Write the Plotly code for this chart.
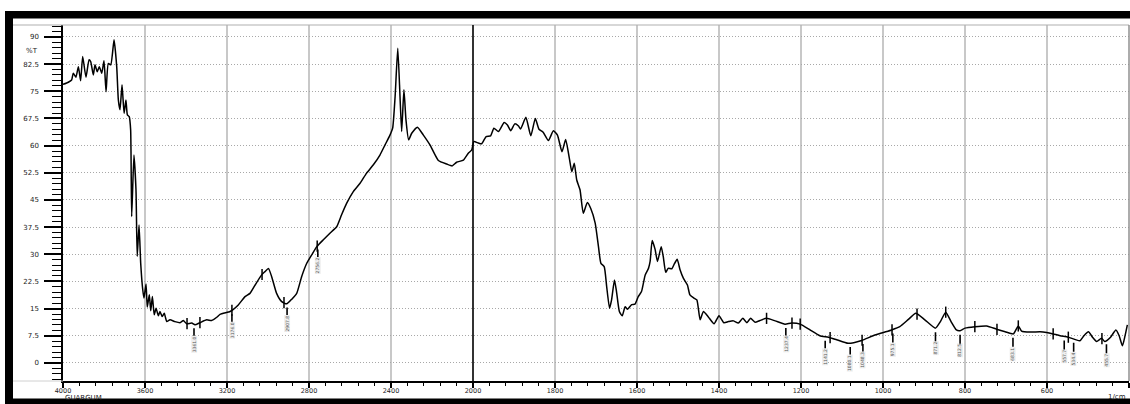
import numpy as np
import plotly.graph_objects as go

# ---------------- data ----------------
wavenumber = [
    4000, 3974, 3958, 3950, 3937, 3925, 3914, 3904, 3888, 3873, 3865, 3852, 3844, 3833, 3823, 3811,
    3800, 3790, 3779, 3767, 3751, 3738, 3730, 3722, 3712, 3702, 3693, 3686, 3677, 3670, 3665, 3654,
    3644, 3638, 3629, 3621, 3611, 3605, 3595, 3589, 3579, 3572, 3564, 3555, 3546, 3535, 3527, 3516,
    3506, 3494, 3478, 3454, 3429, 3413, 3397, 3372, 3356, 3332, 3299, 3275, 3250, 3234, 3185, 3169,
    3145, 3112, 3088, 3063, 3031, 3015, 2998, 2982, 2958, 2933, 2909, 2884, 2860, 2836, 2811, 2787,
    2762, 2730, 2698, 2665, 2641, 2616, 2584, 2551, 2519, 2486, 2454, 2429, 2405, 2392, 2380, 2367,
    2356, 2348, 2337, 2327, 2314, 2299, 2271, 2242, 2210, 2169, 2128, 2101, 2080, 2047, 2023, 2006,
    1998, 1987, 1979, 1968, 1957, 1949, 1938, 1924, 1916, 1908, 1898, 1889, 1884, 1871, 1859, 1848,
    1839, 1829, 1816, 1804, 1794, 1783, 1774, 1765, 1759, 1753, 1747, 1739, 1731, 1721, 1713, 1702,
    1694, 1688, 1680, 1674, 1667, 1662, 1655, 1650, 1643, 1636, 1629, 1623, 1613, 1605, 1597, 1589,
    1580, 1572, 1568, 1563, 1556, 1550, 1541, 1536, 1530, 1524, 1515, 1510, 1502, 1495, 1487, 1477,
    1471, 1461, 1454, 1446, 1438, 1426, 1412, 1400, 1388, 1377, 1365, 1353, 1342, 1332, 1323, 1312,
    1300, 1284, 1263, 1239, 1223, 1202, 1178, 1154, 1133, 1113, 1085, 1052, 1024, 999, 979, 959,
    938, 920, 898, 872, 860, 847, 834, 821, 812, 800, 776, 747, 723, 702, 682, 670,
    662, 641, 617, 601, 585, 568, 548, 520, 510, 499, 489, 479, 467, 459, 445, 432,
    424, 416, 410, 404,
]
transmittance = [
    76.9, 77.5, 78.1, 80.0, 78.9, 81.8, 77.9, 84.6, 78.9, 83.7, 83.2, 79.5, 82.3, 80.4, 81.8, 80.0,
    83.4, 74.9, 82.7, 82.3, 89.2, 81.8, 72.6, 69.9, 76.8, 68.9, 72.6, 68.5, 68.0, 64.3, 40.4, 57.4,
    47.8, 29.4, 38.1, 27.5, 20.2, 17.9, 21.8, 15.4, 18.8, 14.4, 18.3, 13.3, 15.1, 13.0, 14.2, 12.8,
    13.7, 11.4, 11.9, 11.4, 11.1, 11.7, 10.8, 11.0, 10.5, 11.1, 11.9, 11.7, 12.6, 13.4, 14.2, 14.8,
    16.0, 18.3, 19.2, 21.5, 24.3, 25.2, 26.1, 23.8, 19.2, 16.9, 16.3, 17.6, 19.2, 23.8, 27.5, 29.8,
    32.1, 34.0, 35.8, 37.6, 40.9, 44.1, 47.3, 49.6, 52.4, 54.7, 57.4, 60.2, 62.9, 64.8, 73.5, 86.9,
    73.5, 63.9, 75.4, 67.1, 61.6, 63.4, 65.1, 62.9, 60.2, 55.9, 54.9, 54.4, 55.4, 56.0, 57.9, 58.8,
    61.1, 60.7, 60.5, 62.5, 62.7, 64.8, 63.9, 66.4, 65.7, 64.1, 66.0, 65.4, 64.6, 67.8, 62.7, 67.5,
    64.5, 63.7, 61.4, 64.1, 62.9, 58.3, 61.7, 56.5, 52.8, 55.1, 50.5, 47.8, 41.3, 44.3, 42.7, 38.6,
    32.1, 27.5, 26.6, 21.1, 15.1, 17.4, 22.9, 19.7, 14.2, 13.0, 15.5, 14.8, 16.1, 16.2, 18.3, 19.7,
    24.3, 26.1, 28.0, 33.8, 31.4, 28.0, 32.1, 29.4, 25.0, 26.1, 26.0, 27.1, 28.6, 25.7, 23.4, 21.5,
    18.8, 17.9, 17.4, 11.9, 14.2, 12.7, 10.8, 13.0, 11.1, 11.4, 11.6, 11.0, 12.3, 11.1, 12.3, 11.2,
    11.7, 12.3, 11.6, 10.7, 11.0, 10.7, 9.1, 7.5, 7.1, 6.4, 5.4, 6.2, 7.5, 8.4, 9.1, 10.0,
    12.0, 13.7, 11.9, 9.6, 11.4, 14.0, 11.4, 9.1, 8.9, 9.6, 10.0, 10.2, 9.3, 8.6, 8.0, 10.2,
    8.8, 8.5, 8.6, 8.4, 8.0, 7.5, 7.1, 6.1, 7.5, 8.6, 7.1, 5.9, 6.8, 5.9, 7.1, 9.1,
    7.5, 4.7, 7.3, 10.5,
]

# labelled peaks (wavenumber, label text)
peak_w = [3361, 3176, 2907, 2757, 1237, 1141, 1080, 1049, 976, 872, 812, 683, 558, 535, 455]
peak_labels = ["3361.0", "3176.0", "2907.8", "2756.2", "1237.4", "1141.2", "1080.1",
               "1048.3", "975.1", "871.2", "812.5", "683.1", "557.7", "534.4", "455.7"]

# small peak-pick markers on the curve
mark_w = [3395, 3332, 3176, 3029, 2922, 2760, 1284, 1222, 1202, 1129, 1051, 978, 917,
          847, 776, 722, 670, 585, 548, 466]

major_ticks_w = [4000, 3600, 3200, 2800, 2400, 2000, 1800, 1600, 1400, 1200, 1000, 800, 600, 400]
y_ticks = [0, 7.5, 15, 22.5, 30, 37.5, 45, 52.5, 60, 67.5, 75, 82.5, 90]


# ---------------- helpers ----------------
def to_u(w):
    """IR-style split scale: 4000-2000 compressed, 2000-400 expanded 2x."""
    w = np.asarray(w, dtype=float)
    return np.where(w >= 2000, (4000 - w) / 400.0, 5 + (2000 - w) / 200.0)


w_arr = np.array(wavenumber, dtype=float)
t_arr = np.array(transmittance, dtype=float)
order = np.argsort(w_arr)


def t_at(w):
    return np.interp(w, w_arr[order], t_arr[order])


L, T, W, H = 63, 25, 1130, 404
PW = 1129 - L
PH = 381 - T


def px(x):
    return (x - L) / PW


def py(y):
    return (381 - y) / PH


fig = go.Figure()

fig.add_trace(go.Scatter(
    x=to_u(wavenumber), y=transmittance, mode="lines",
    line=dict(color="black", width=1.5, shape="spline", smoothing=0.5),
    hoverinfo="skip", showlegend=False,
))

fig.add_trace(go.Scatter(
    x=to_u(mark_w), y=t_at(mark_w), mode="markers",
    marker=dict(symbol="line-ns", size=8, line=dict(color="black", width=1.5)),
    hoverinfo="skip", showlegend=False,
))

annotations = []
for w, lab in zip(peak_w, peak_labels):
    annotations.append(dict(
        x=float(to_u(w)), y=float(t_at(w)), xref="x", yref="y",
        text=lab, textangle=-90, showarrow=True, arrowhead=0, arrowwidth=1.6,
        arrowcolor="black", ax=0, ay=20, standoff=4,
        font=dict(size=4.5, color="#555", family="DejaVu Sans"),
        bgcolor="#eeeeee", borderpad=0,
    ))

annotations += [
    dict(x=px(40), y=86.2, xref="paper", yref="y", text="%T", showarrow=False,
         xanchor="right", yanchor="middle", font=dict(size=7, color="#222", family="DejaVu Sans")),
    dict(x=0, y=py(392.0), xref="paper", yref="paper", text="GUARGUM", showarrow=False,
         xanchor="left", yanchor="top", font=dict(size=7, color="#222", family="DejaVu Sans")),
    dict(x=px(1128), y=py(391.0), xref="paper", yref="paper", text="1/cm", showarrow=False,
         xanchor="right", yanchor="top", font=dict(size=7, color="#222", family="DejaVu Sans")),
]

shapes = [
    # plot border (top / right)
    dict(type="line", xref="paper", yref="paper", x0=px(13), x1=1, y0=1, y1=1,
         line=dict(color="#b0b0b0", width=1.2)),
    dict(type="line", xref="paper", yref="paper", x0=1, x1=1, y0=0, y1=1,
         line=dict(color="#909090", width=1.5)),
    dict(type="line", xref="paper", yref="paper", x0=px(13), x1=0, y0=0, y1=0,
         line=dict(color="#d0d0d0", width=1)),
    # 2000 cm-1 scale change line
    dict(type="line", xref="x", yref="paper", x0=float(to_u(2000)), x1=float(to_u(2000)),
         y0=0, y1=1, line=dict(color="black", width=1.5)),
    # outer black frame
    dict(type="rect", xref="paper", yref="paper", x0=px(5), x1=px(13), y0=py(415), y1=py(11),
         fillcolor="black", line=dict(width=0)),
    dict(type="rect", xref="paper", yref="paper", x0=px(5), x1=px(1140), y0=py(18.5), y1=py(11),
         fillcolor="black", line=dict(width=0)),
    dict(type="rect", xref="paper", yref="paper", x0=px(5), x1=px(1140), y0=py(415), y1=py(398.5),
         fillcolor="black", line=dict(width=0)),
]

fig.update_layout(
    width=W, height=H,
    margin=dict(l=L, r=W - 1129, t=T, b=H - 381),
    paper_bgcolor="white", plot_bgcolor="white",
    showlegend=False, hovermode=False,
    annotations=annotations, shapes=shapes,
    font=dict(family="DejaVu Sans", color="#222"),
)

fig.update_xaxes(
    range=[0, 13], tickmode="array",
    tickvals=[float(v) for v in to_u(major_ticks_w)],
    ticktext=[str(v) for v in major_ticks_w],
    showgrid=True, gridcolor="#c8c8c8", gridwidth=1.5,
    showline=True, linecolor="black", linewidth=1.5,
    ticks="outside", ticklen=5, tickwidth=1.5, tickcolor="black",
    minor=dict(tickmode="linear", tick0=0, dtick=0.2, ticks="outside", ticklen=3,
               tickwidth=1.2, tickcolor="black", showgrid=False),
    tickfont=dict(size=6.5, color="#222"), zeroline=False, fixedrange=True,
    ticklabelstandoff=-3,
)

fig.update_yaxes(
    range=[-5, 93.3], tickmode="array", tickvals=y_ticks,
    ticktext=[("%g" % v) for v in y_ticks],
    showgrid=True, gridcolor="#a8a8a8", gridwidth=1, griddash="1px,2px",
    showline=True, linecolor="black", linewidth=1.5,
    ticks="outside", ticklen=17, tickwidth=1.5, tickcolor="black",
    minor=dict(tickmode="linear", tick0=0, dtick=1.5, ticks="outside", ticklen=9,
               tickwidth=1.2, tickcolor="black", showgrid=False),
    tickfont=dict(size=7, color="#222"), zeroline=False, fixedrange=True,
    ticklabelstandoff=4,
)

fig.write_html(
    "out.html",
    config={"displayModeBar": False},
    post_script="document.body.style.margin='0';document.body.style.overflow='hidden';",
)
